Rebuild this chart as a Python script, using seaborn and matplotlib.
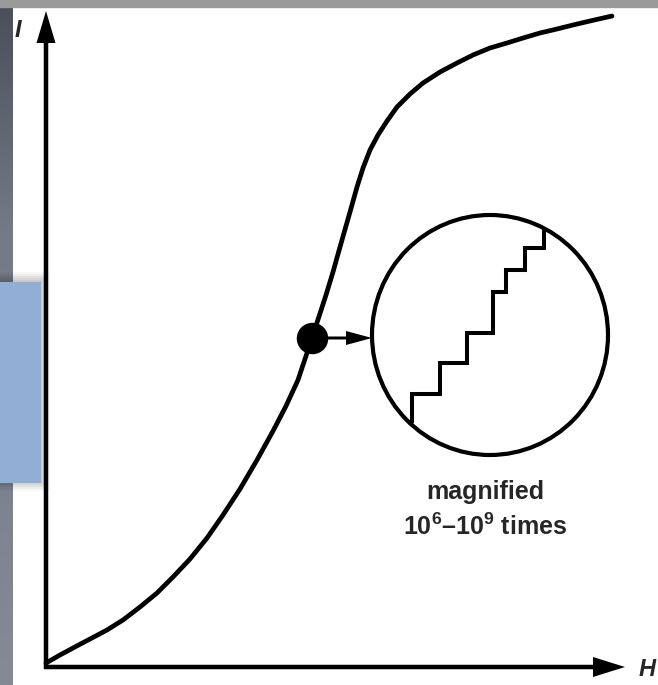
import numpy as np
import pandas as pd
import matplotlib
matplotlib.use("Agg")
import matplotlib.pyplot as plt
import seaborn as sns
from matplotlib.patches import Ellipse, Rectangle, FancyArrow

# Magnetization curve I(H)
H = [0, 14, 27, 44, 61, 77, 94, 111, 127, 144, 161, 177, 194, 211, 227, 240, 252,
     266, 280, 287, 294, 304, 311, 317, 324, 332, 341, 351, 364, 377, 394, 411,
     427, 444, 461, 477, 494, 511, 527, 544, 566]
I = [3, 11, 18, 27, 36, 46, 59, 73, 89, 107, 128, 151, 177, 206, 235, 260, 286,
     328, 371, 394, 419, 454, 479, 498, 516, 531, 545, 559, 572, 583, 594, 603,
     611, 618, 623, 628, 633, 637, 641, 645, 650]

# Operating point that is magnified
point_H = [266]
point_I = [328]

# Barkhausen jumps seen under magnification (inside the loupe)
step_H = [366, 366, 394, 394, 421, 421, 447, 447, 460, 460, 479, 479, 498, 498]
step_I = [244, 272, 272, 303, 303, 333, 333, 374, 374, 396, 396, 418, 418, 436]

# Loupe
loupe_center = (444, 331)
loupe_size = (236, 240)

label_lines = ["magnified", r"10$^{6}$–10$^{9}$ times"]
axis_labels = ["H", "I"]

sns.set_style("white")
plt.rcParams["font.family"] = ["Liberation Sans", "DejaVu Sans"]
plt.rcParams["mathtext.fontset"] = "custom"
plt.rcParams["mathtext.rm"] = "Liberation Sans:bold"
plt.rcParams["mathtext.bf"] = "Liberation Sans:bold"
plt.rcParams["mathtext.it"] = "Liberation Sans:bold:italic"

fig = plt.figure(figsize=(6.58, 6.85), dpi=100)
fig.patch.set_facecolor("white")

# frame decorations around the diagram
grad = np.linspace(0, 1, 256).reshape(-1, 1)
strip = fig.add_axes([0, 0, 13 / 658, 678 / 685])
strip.imshow(grad, aspect="auto", cmap=matplotlib.colors.LinearSegmentedColormap.from_list(
    "strip", ["#4a4f5a", "#747a88", "#7c8190", "#868a96"]))
strip.set_axis_off()
fig.patches.append(Rectangle((0, 678 / 685), 1, 7 / 685, transform=fig.transFigure,
                             color="#9a9a9a", zorder=5))
for k, a in enumerate([0.05, 0.05, 0.05, 0.04, 0.03]):
    fig.patches.append(Rectangle((0, (202 - k * 2) / 685), (42 + k * 2) / 658, (203 + k * 4) / 685,
                                 transform=fig.transFigure, color="black", alpha=a, lw=0, zorder=4))
fig.patches.append(Rectangle((0, 202 / 685), 41 / 658, 201 / 685, transform=fig.transFigure,
                             color="#91afd5", lw=0, zorder=6))

ax = fig.add_axes([14 / 658, 0, 644 / 658, 1])
ax.set_xlim(-32, 612)
ax.set_ylim(-19, 666)
ax.set_axis_off()
ax.patch.set_alpha(0)

# axes with arrowheads
ax.add_patch(FancyArrow(0, -3, 0, 655 + 3 - 32, width=4.5, head_width=19, head_length=32,
                        length_includes_head=False, color="black", lw=0))
ax.add_patch(FancyArrow(-2, -1, 579 + 2 - 32, 0, width=4.5, head_width=20, head_length=32,
                        length_includes_head=False, color="black", lw=0))
ax.text(-28, 636, axis_labels[1], fontsize=17, fontweight="bold", style="italic",
        ha="center", va="center")
ax.text(601, -3, axis_labels[0], fontsize=17, fontweight="bold", style="italic",
        ha="center", va="center")

curve = pd.DataFrame({"H": H, "I": I})
sns.lineplot(data=curve, x="H", y="I", sort=False, estimator=None, color="black", lw=3.4,
             ax=ax, solid_joinstyle="round", solid_capstyle="round")

sns.scatterplot(x=point_H, y=point_I, s=440, color="black", edgecolor="black", ax=ax, zorder=5)

ax.add_patch(Ellipse(loupe_center, loupe_size[0], loupe_size[1], fill=False,
                     ec="black", lw=3.0))
ax.add_patch(FancyArrow(point_H[0], point_I[0], loupe_center[0] - loupe_size[0] / 2 - point_H[0], 0,
                        width=3, head_width=14, head_length=26, length_includes_head=True,
                        color="black", lw=0))

steps = pd.DataFrame({"H": step_H, "I": step_I})
sns.lineplot(data=steps, x="H", y="I", sort=False, estimator=None, color="black", lw=2.9,
             ax=ax, solid_joinstyle="miter")

ax.text(439, 174, label_lines[0], fontsize=18, fontweight="bold", ha="center", va="center")
ax.text(439, 139, label_lines[1], fontsize=18, fontweight="bold", ha="center", va="center")

fig.savefig("out.png", dpi=100)
